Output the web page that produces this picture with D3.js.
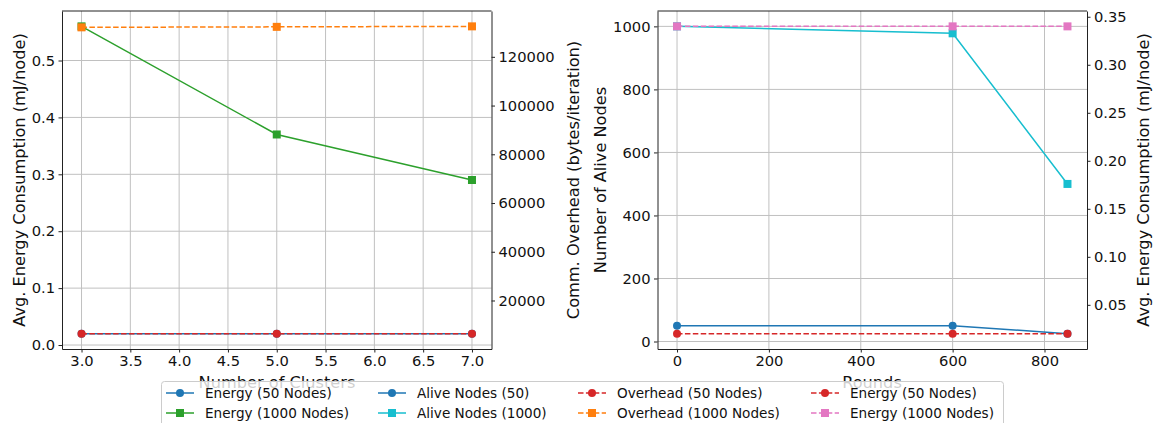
<!DOCTYPE html>
<html lang="en">
<head>
    <meta charset="UTF-8">
    <title>Clusters and rounds</title>
    <script src="https://cdnjs.cloudflare.com/ajax/libs/d3/7.8.5/d3.min.js" charset="utf-8"></script>
    <style>
        body { margin: 0; background: #fff; }
        svg text { font-family: "DejaVu Sans", sans-serif; fill: #111; }
        .domain { stroke: #222; }
        .tick line { stroke: #222; }
        .grid line { stroke: #c0c0c0; stroke-width: 1; }
    </style>
</head>
<body>
<svg width="1156" height="423"></svg>
<script>
    // left panel data
    var clusters = [3, 5, 7];
    var energy50L = [0.02, 0.02, 0.02];
    var energy1000L = [0.56, 0.37, 0.29];
    var overhead50 = [6400, 6400, 6400];
    var overhead1000 = [132100, 132300, 132500];

    // right panel data
    var rounds = [0, 600, 850];
    var alive50 = [50, 50, 25];
    var alive1000 = [1000, 978, 500];
    var energy50R = [0.02, 0.02, 0.02];
    var energy1000R = [0.34, 0.34, 0.34];

    // tick labels
    var clusterTicks = [3.0, 3.5, 4.0, 4.5, 5.0, 5.5, 6.0, 6.5, 7.0];
    var energyTicksL = [0.0, 0.1, 0.2, 0.3, 0.4, 0.5];
    var overheadTicks = [20000, 40000, 60000, 80000, 100000, 120000];
    var roundTicks = [0, 200, 400, 600, 800];
    var aliveTicks = [0, 200, 400, 600, 800, 1000];
    var energyTicksR = [0.05, 0.10, 0.15, 0.20, 0.25, 0.30, 0.35];

    var svg = d3.select("svg");
    var plotTop = 11, plotBottom = 349;
    var dash = "5.5,2.4";
    var tickFont = "14.7px", labelFont = "16.2px", legendFont = "13.6px";

    // matplotlib style 5% margins
    function pad(arrs) {
        var all = [].concat.apply([], arrs);
        var lo = d3.min(all), hi = d3.max(all), r = hi - lo;
        return [lo - 0.05 * r, hi + 0.05 * r];
    }

    function grid(g, xs, xt, ys, yt) {
        var gg = g.append("g").attr("class", "grid");
        gg.selectAll(".vx").data(xt).enter().append("line")
                .attr("x1", function (d) { return xs(d); })
                .attr("x2", function (d) { return xs(d); })
                .attr("y1", plotTop).attr("y2", plotBottom);
        gg.selectAll(".hy").data(yt).enter().append("line")
                .attr("y1", function (d) { return ys(d); })
                .attr("y2", function (d) { return ys(d); })
                .attr("x1", xs.range()[0]).attr("x2", xs.range()[1]);
    }

    function series(g, xs, ys, xv, yv, color, shape, dashed) {
        var pts = xv.map(function (x, i) { return [xs(x), ys(yv[i])]; });
        g.append("path")
                .attr("d", d3.line()(pts))
                .attr("fill", "none")
                .attr("stroke", color)
                .attr("stroke-width", 1.5)
                .attr("stroke-dasharray", dashed ? dash : null);
        pts.forEach(function (p) { marker(g, p[0], p[1], color, shape); });
    }

    function marker(g, x, y, color, shape) {
        if (shape === "o") {
            g.append("circle").attr("cx", x).attr("cy", y).attr("r", 4).attr("fill", color);
        } else {
            g.append("rect").attr("x", x - 4).attr("y", y - 4)
                    .attr("width", 8).attr("height", 8).attr("fill", color);
        }
    }

    function ylabel(x, txt) {
        svg.append("text")
                .attr("transform", "translate(" + x + "," + ((plotTop + plotBottom) / 2) + ") rotate(-90)")
                .attr("text-anchor", "middle")
                .attr("dy", "0.35em")
                .style("font-size", labelFont)
                .text(txt);
    }

    function xlabel(x, txt) {
        svg.append("text")
                .attr("x", x).attr("y", 388)
                .attr("text-anchor", "middle")
                .style("font-size", labelFont)
                .text(txt);
    }

    function panel(x0, x1, xDom, xt, xfmt, yDom, yt, yfmt, y2Dom, y2t, y2fmt) {
        var xs = d3.scaleLinear().domain(xDom).range([x0, x1]);
        var ys = d3.scaleLinear().domain(yDom).range([plotBottom, plotTop]);
        var ys2 = d3.scaleLinear().domain(y2Dom).range([plotBottom, plotTop]);
        var g = svg.append("g");
        grid(g, xs, xt, ys, yt);

        g.append("g").attr("transform", "translate(0," + plotBottom + ")")
                .call(d3.axisBottom(xs).tickValues(xt).tickFormat(d3.format(xfmt))
                        .tickSize(3.5).tickPadding(3.5).tickSizeOuter(0));
        g.append("g").attr("transform", "translate(" + x0 + ",0)")
                .call(d3.axisLeft(ys).tickValues(yt).tickFormat(d3.format(yfmt))
                        .tickSize(3.5).tickPadding(3.5).tickSizeOuter(0));
        g.append("g").attr("transform", "translate(" + x1 + ",0)")
                .call(d3.axisRight(ys2).tickValues(y2t).tickFormat(d3.format(y2fmt))
                        .tickSize(3.5).tickPadding(3.5).tickSizeOuter(0));
        g.append("line").attr("x1", x0).attr("x2", x1).attr("y1", plotTop).attr("y2", plotTop)
                .attr("stroke", "#222");
        g.selectAll(".tick text").style("font-size", tickFont).style("font-family", "DejaVu Sans");
        return {g: g, xs: xs, ys: ys, ys2: ys2};
    }

    // left panel
    var p1 = panel(62, 491.5, pad([clusters]), clusterTicks, ".1f",
            pad([energy50L, energy1000L]), energyTicksL, ".1f",
            pad([overhead50, overhead1000]), overheadTicks, "d");
    series(p1.g, p1.xs, p1.ys, clusters, energy50L, "#1f77b4", "o", false);
    series(p1.g, p1.xs, p1.ys, clusters, energy1000L, "#2ca02c", "s", false);
    series(p1.g, p1.xs, p1.ys2, clusters, overhead50, "#d62728", "o", true);
    series(p1.g, p1.xs, p1.ys2, clusters, overhead1000, "#ff7f0e", "s", true);

    // right panel
    var p2 = panel(657.5, 1087, pad([rounds]), roundTicks, "d",
            pad([alive50, alive1000]), aliveTicks, "d",
            pad([energy50R, energy1000R]), energyTicksR, ".2f");
    series(p2.g, p2.xs, p2.ys, rounds, alive50, "#1f77b4", "o", false);
    series(p2.g, p2.xs, p2.ys, rounds, alive1000, "#17becf", "s", false);
    series(p2.g, p2.xs, p2.ys2, rounds, energy50R, "#d62728", "o", true);
    series(p2.g, p2.xs, p2.ys2, rounds, energy1000R, "#e377c2", "s", true);

    ylabel(19, "Avg. Energy Consumption (mJ/node)");
    ylabel(573, "Comm. Overhead (bytes/iteration)");
    ylabel(600, "Number of Alive Nodes");
    ylabel(1143, "Avg. Energy Consumption (mJ/node)");
    xlabel(277, "Number of Clusters");
    xlabel(872, "Rounds");

    // legend
    var legendItems = [
        {label: "Energy (50 Nodes)", color: "#1f77b4", shape: "o", dashed: false},
        {label: "Energy (1000 Nodes)", color: "#2ca02c", shape: "s", dashed: false},
        {label: "Alive Nodes (50)", color: "#1f77b4", shape: "o", dashed: false},
        {label: "Alive Nodes (1000)", color: "#17becf", shape: "s", dashed: false},
        {label: "Overhead (50 Nodes)", color: "#d62728", shape: "o", dashed: true},
        {label: "Overhead (1000 Nodes)", color: "#ff7f0e", shape: "s", dashed: true},
        {label: "Energy (50 Nodes)", color: "#d62728", shape: "o", dashed: true},
        {label: "Energy (1000 Nodes)", color: "#e377c2", shape: "s", dashed: true}
    ];
    var colX = [166, 378, 578, 811];
    var rowY = [393, 413];

    var lg = svg.append("g");
    lg.append("rect")
            .attr("x", 161.5).attr("y", 381.5)
            .attr("width", 842).attr("height", 50)
            .attr("rx", 3)
            .attr("fill", "#fff").attr("fill-opacity", 0.8)
            .attr("stroke", "#cccccc");
    legendItems.forEach(function (d, i) {
        var cx = colX[Math.floor(i / 2)], cy = rowY[i % 2];
        lg.append("line")
                .attr("x1", cx).attr("x2", cx + 28)
                .attr("y1", cy).attr("y2", cy)
                .attr("stroke", d.color).attr("stroke-width", 1.5)
                .attr("stroke-dasharray", d.dashed ? dash : null);
        marker(lg, cx + 14, cy, d.color, d.shape);
        lg.append("text")
                .attr("x", cx + 39).attr("y", cy)
                .attr("dy", "0.35em")
                .style("font-size", legendFont)
                .text(d.label);
    });
</script>
</body>
</html>
